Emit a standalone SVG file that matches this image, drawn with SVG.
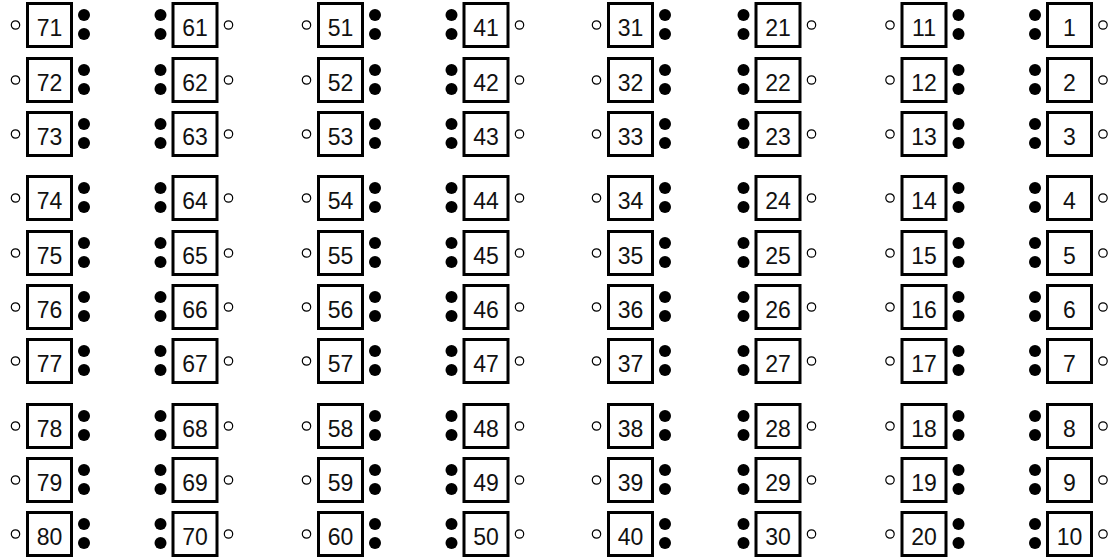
<svg xmlns="http://www.w3.org/2000/svg" xmlns:xlink="http://www.w3.org/1999/xlink" width="1114" height="558" viewBox="0 0 1114 558">
<style>
.box{fill:#fff;stroke:#000;stroke-width:3}
.o{fill:#fff;stroke:#000;stroke-width:1.2}
.d{fill:#000}
text{font-family:"Liberation Sans Narrow","Liberation Sans",sans-serif;font-size:23px;fill:#111;text-anchor:middle}
</style>
<defs>
<g id="A"><rect class="box" x="1.5" y="1.5" width="44" height="43"/><circle class="o" cx="-10.5" cy="23" r="4.2"/><circle class="d" cx="58" cy="13" r="6"/><circle class="d" cx="58" cy="32" r="6"/></g>
<g id="B"><rect class="box" x="1.5" y="1.5" width="44" height="43"/><circle class="d" cx="-11" cy="13" r="6"/><circle class="d" cx="-11" cy="32" r="6"/><circle class="o" cx="57" cy="23" r="4.2"/></g>
</defs>
<rect width="1114" height="558" fill="#fff"/>
<g id="connectors"/>
<g id="col71">
<g id="n71" transform="translate(26,2)"><use xlink:href="#A"/><text x="23.5" y="33.5">71</text></g>
<g id="n72" transform="translate(26,57)"><use xlink:href="#A"/><text x="23.5" y="33.5">72</text></g>
<g id="n73" transform="translate(26,111)"><use xlink:href="#A"/><text x="23.5" y="33.5">73</text></g>
<g id="n74" transform="translate(26,175)"><use xlink:href="#A"/><text x="23.5" y="33.5">74</text></g>
<g id="n75" transform="translate(26,230)"><use xlink:href="#A"/><text x="23.5" y="33.5">75</text></g>
<g id="n76" transform="translate(26,284)"><use xlink:href="#A"/><text x="23.5" y="33.5">76</text></g>
<g id="n77" transform="translate(26,338)"><use xlink:href="#A"/><text x="23.5" y="33.5">77</text></g>
<g id="n78" transform="translate(26,403)"><use xlink:href="#A"/><text x="23.5" y="33.5">78</text></g>
<g id="n79" transform="translate(26,457)"><use xlink:href="#A"/><text x="23.5" y="33.5">79</text></g>
<g id="n80" transform="translate(26,511)"><use xlink:href="#A"/><text x="23.5" y="33.5">80</text></g>
</g>
<g id="col61">
<g id="n61" transform="translate(171.5,2)"><use xlink:href="#B"/><text x="23.5" y="33.5">61</text></g>
<g id="n62" transform="translate(171.5,57)"><use xlink:href="#B"/><text x="23.5" y="33.5">62</text></g>
<g id="n63" transform="translate(171.5,111)"><use xlink:href="#B"/><text x="23.5" y="33.5">63</text></g>
<g id="n64" transform="translate(171.5,175)"><use xlink:href="#B"/><text x="23.5" y="33.5">64</text></g>
<g id="n65" transform="translate(171.5,230)"><use xlink:href="#B"/><text x="23.5" y="33.5">65</text></g>
<g id="n66" transform="translate(171.5,284)"><use xlink:href="#B"/><text x="23.5" y="33.5">66</text></g>
<g id="n67" transform="translate(171.5,338)"><use xlink:href="#B"/><text x="23.5" y="33.5">67</text></g>
<g id="n68" transform="translate(171.5,403)"><use xlink:href="#B"/><text x="23.5" y="33.5">68</text></g>
<g id="n69" transform="translate(171.5,457)"><use xlink:href="#B"/><text x="23.5" y="33.5">69</text></g>
<g id="n70" transform="translate(171.5,511)"><use xlink:href="#B"/><text x="23.5" y="33.5">70</text></g>
</g>
<g id="col51">
<g id="n51" transform="translate(317,2)"><use xlink:href="#A"/><text x="23.5" y="33.5">51</text></g>
<g id="n52" transform="translate(317,57)"><use xlink:href="#A"/><text x="23.5" y="33.5">52</text></g>
<g id="n53" transform="translate(317,111)"><use xlink:href="#A"/><text x="23.5" y="33.5">53</text></g>
<g id="n54" transform="translate(317,175)"><use xlink:href="#A"/><text x="23.5" y="33.5">54</text></g>
<g id="n55" transform="translate(317,230)"><use xlink:href="#A"/><text x="23.5" y="33.5">55</text></g>
<g id="n56" transform="translate(317,284)"><use xlink:href="#A"/><text x="23.5" y="33.5">56</text></g>
<g id="n57" transform="translate(317,338)"><use xlink:href="#A"/><text x="23.5" y="33.5">57</text></g>
<g id="n58" transform="translate(317,403)"><use xlink:href="#A"/><text x="23.5" y="33.5">58</text></g>
<g id="n59" transform="translate(317,457)"><use xlink:href="#A"/><text x="23.5" y="33.5">59</text></g>
<g id="n60" transform="translate(317,511)"><use xlink:href="#A"/><text x="23.5" y="33.5">60</text></g>
</g>
<g id="col41">
<g id="n41" transform="translate(462.5,2)"><use xlink:href="#B"/><text x="23.5" y="33.5">41</text></g>
<g id="n42" transform="translate(462.5,57)"><use xlink:href="#B"/><text x="23.5" y="33.5">42</text></g>
<g id="n43" transform="translate(462.5,111)"><use xlink:href="#B"/><text x="23.5" y="33.5">43</text></g>
<g id="n44" transform="translate(462.5,175)"><use xlink:href="#B"/><text x="23.5" y="33.5">44</text></g>
<g id="n45" transform="translate(462.5,230)"><use xlink:href="#B"/><text x="23.5" y="33.5">45</text></g>
<g id="n46" transform="translate(462.5,284)"><use xlink:href="#B"/><text x="23.5" y="33.5">46</text></g>
<g id="n47" transform="translate(462.5,338)"><use xlink:href="#B"/><text x="23.5" y="33.5">47</text></g>
<g id="n48" transform="translate(462.5,403)"><use xlink:href="#B"/><text x="23.5" y="33.5">48</text></g>
<g id="n49" transform="translate(462.5,457)"><use xlink:href="#B"/><text x="23.5" y="33.5">49</text></g>
<g id="n50" transform="translate(462.5,511)"><use xlink:href="#B"/><text x="23.5" y="33.5">50</text></g>
</g>
<g id="col31">
<g id="n31" transform="translate(607,2)"><use xlink:href="#A"/><text x="23.5" y="33.5">31</text></g>
<g id="n32" transform="translate(607,57)"><use xlink:href="#A"/><text x="23.5" y="33.5">32</text></g>
<g id="n33" transform="translate(607,111)"><use xlink:href="#A"/><text x="23.5" y="33.5">33</text></g>
<g id="n34" transform="translate(607,175)"><use xlink:href="#A"/><text x="23.5" y="33.5">34</text></g>
<g id="n35" transform="translate(607,230)"><use xlink:href="#A"/><text x="23.5" y="33.5">35</text></g>
<g id="n36" transform="translate(607,284)"><use xlink:href="#A"/><text x="23.5" y="33.5">36</text></g>
<g id="n37" transform="translate(607,338)"><use xlink:href="#A"/><text x="23.5" y="33.5">37</text></g>
<g id="n38" transform="translate(607,403)"><use xlink:href="#A"/><text x="23.5" y="33.5">38</text></g>
<g id="n39" transform="translate(607,457)"><use xlink:href="#A"/><text x="23.5" y="33.5">39</text></g>
<g id="n40" transform="translate(607,511)"><use xlink:href="#A"/><text x="23.5" y="33.5">40</text></g>
</g>
<g id="col21">
<g id="n21" transform="translate(754.5,2)"><use xlink:href="#B"/><text x="23.5" y="33.5">21</text></g>
<g id="n22" transform="translate(754.5,57)"><use xlink:href="#B"/><text x="23.5" y="33.5">22</text></g>
<g id="n23" transform="translate(754.5,111)"><use xlink:href="#B"/><text x="23.5" y="33.5">23</text></g>
<g id="n24" transform="translate(754.5,175)"><use xlink:href="#B"/><text x="23.5" y="33.5">24</text></g>
<g id="n25" transform="translate(754.5,230)"><use xlink:href="#B"/><text x="23.5" y="33.5">25</text></g>
<g id="n26" transform="translate(754.5,284)"><use xlink:href="#B"/><text x="23.5" y="33.5">26</text></g>
<g id="n27" transform="translate(754.5,338)"><use xlink:href="#B"/><text x="23.5" y="33.5">27</text></g>
<g id="n28" transform="translate(754.5,403)"><use xlink:href="#B"/><text x="23.5" y="33.5">28</text></g>
<g id="n29" transform="translate(754.5,457)"><use xlink:href="#B"/><text x="23.5" y="33.5">29</text></g>
<g id="n30" transform="translate(754.5,511)"><use xlink:href="#B"/><text x="23.5" y="33.5">30</text></g>
</g>
<g id="col11">
<g id="n11" transform="translate(900.5,2)"><use xlink:href="#A"/><text x="23.5" y="33.5">11</text></g>
<g id="n12" transform="translate(900.5,57)"><use xlink:href="#A"/><text x="23.5" y="33.5">12</text></g>
<g id="n13" transform="translate(900.5,111)"><use xlink:href="#A"/><text x="23.5" y="33.5">13</text></g>
<g id="n14" transform="translate(900.5,175)"><use xlink:href="#A"/><text x="23.5" y="33.5">14</text></g>
<g id="n15" transform="translate(900.5,230)"><use xlink:href="#A"/><text x="23.5" y="33.5">15</text></g>
<g id="n16" transform="translate(900.5,284)"><use xlink:href="#A"/><text x="23.5" y="33.5">16</text></g>
<g id="n17" transform="translate(900.5,338)"><use xlink:href="#A"/><text x="23.5" y="33.5">17</text></g>
<g id="n18" transform="translate(900.5,403)"><use xlink:href="#A"/><text x="23.5" y="33.5">18</text></g>
<g id="n19" transform="translate(900.5,457)"><use xlink:href="#A"/><text x="23.5" y="33.5">19</text></g>
<g id="n20" transform="translate(900.5,511)"><use xlink:href="#A"/><text x="23.5" y="33.5">20</text></g>
</g>
<g id="col1">
<g id="n1" transform="translate(1046,2)"><use xlink:href="#B"/><text x="23.5" y="33.5">1</text></g>
<g id="n2" transform="translate(1046,57)"><use xlink:href="#B"/><text x="23.5" y="33.5">2</text></g>
<g id="n3" transform="translate(1046,111)"><use xlink:href="#B"/><text x="23.5" y="33.5">3</text></g>
<g id="n4" transform="translate(1046,175)"><use xlink:href="#B"/><text x="23.5" y="33.5">4</text></g>
<g id="n5" transform="translate(1046,230)"><use xlink:href="#B"/><text x="23.5" y="33.5">5</text></g>
<g id="n6" transform="translate(1046,284)"><use xlink:href="#B"/><text x="23.5" y="33.5">6</text></g>
<g id="n7" transform="translate(1046,338)"><use xlink:href="#B"/><text x="23.5" y="33.5">7</text></g>
<g id="n8" transform="translate(1046,403)"><use xlink:href="#B"/><text x="23.5" y="33.5">8</text></g>
<g id="n9" transform="translate(1046,457)"><use xlink:href="#B"/><text x="23.5" y="33.5">9</text></g>
<g id="n10" transform="translate(1046,511)"><use xlink:href="#B"/><text x="23.5" y="33.5">10</text></g>
</g>
</svg>
